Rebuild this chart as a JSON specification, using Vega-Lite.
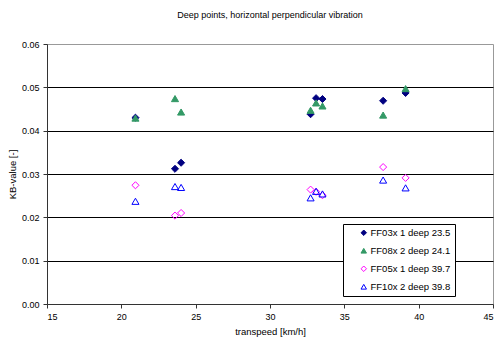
{
  "$schema": "https://vega.github.io/schema/vega-lite/v6.json",
  "autosize": "none",
  "width": 446,
  "height": 260,
  "padding": {"left": 47, "top": 44, "right": 5, "bottom": 36},
  "background": "white",
  "config": {
    "font": "Liberation Sans",
    "view": {"stroke": "#999999", "strokeWidth": 1},
    "axis": {"labelFont": "Liberation Sans", "titleFont": "Liberation Sans", "labelFontSize": 9, "titleFontSize": 9.5, "titleFontWeight": "normal", "labelColor": "#000", "titleColor": "#000", "domainColor": "#333", "tickColor": "#333"}
  },
  "title": {"text": "Deep points, horizontal perpendicular vibration", "fontSize": 9, "fontWeight": "normal", "font": "Liberation Sans", "color": "#000", "anchor": "middle", "offset": 20},
  "data": {"values": [
    {"series": "FF03x 1 deep 23.5", "speed": 20.95, "kb": 0.0430},
    {"series": "FF03x 1 deep 23.5", "speed": 23.61, "kb": 0.0312},
    {"series": "FF03x 1 deep 23.5", "speed": 24.02, "kb": 0.0326},
    {"series": "FF03x 1 deep 23.5", "speed": 32.73, "kb": 0.0438},
    {"series": "FF03x 1 deep 23.5", "speed": 33.10, "kb": 0.0475},
    {"series": "FF03x 1 deep 23.5", "speed": 33.53, "kb": 0.0473},
    {"series": "FF03x 1 deep 23.5", "speed": 37.61, "kb": 0.0469},
    {"series": "FF03x 1 deep 23.5", "speed": 39.12, "kb": 0.0487},
    {"series": "FF08x 2 deep 24.1", "speed": 20.95, "kb": 0.0429},
    {"series": "FF08x 2 deep 24.1", "speed": 23.61, "kb": 0.0474},
    {"series": "FF08x 2 deep 24.1", "speed": 24.02, "kb": 0.0443},
    {"series": "FF08x 2 deep 24.1", "speed": 32.73, "kb": 0.0447},
    {"series": "FF08x 2 deep 24.1", "speed": 33.10, "kb": 0.0464},
    {"series": "FF08x 2 deep 24.1", "speed": 33.53, "kb": 0.0457},
    {"series": "FF08x 2 deep 24.1", "speed": 37.61, "kb": 0.0436},
    {"series": "FF08x 2 deep 24.1", "speed": 39.12, "kb": 0.0497},
    {"series": "FF05x 1 deep 39.7", "speed": 20.95, "kb": 0.0274},
    {"series": "FF05x 1 deep 39.7", "speed": 23.61, "kb": 0.0204},
    {"series": "FF05x 1 deep 39.7", "speed": 24.02, "kb": 0.0210},
    {"series": "FF05x 1 deep 39.7", "speed": 32.73, "kb": 0.0264},
    {"series": "FF05x 1 deep 39.7", "speed": 33.10, "kb": 0.0259},
    {"series": "FF05x 1 deep 39.7", "speed": 33.53, "kb": 0.0251},
    {"series": "FF05x 1 deep 39.7", "speed": 37.61, "kb": 0.0316},
    {"series": "FF05x 1 deep 39.7", "speed": 39.12, "kb": 0.0291},
    {"series": "FF10x 2 deep 39.8", "speed": 20.95, "kb": 0.0237},
    {"series": "FF10x 2 deep 39.8", "speed": 23.61, "kb": 0.0271},
    {"series": "FF10x 2 deep 39.8", "speed": 24.02, "kb": 0.0269},
    {"series": "FF10x 2 deep 39.8", "speed": 32.73, "kb": 0.0245},
    {"series": "FF10x 2 deep 39.8", "speed": 33.10, "kb": 0.0260},
    {"series": "FF10x 2 deep 39.8", "speed": 33.53, "kb": 0.0254},
    {"series": "FF10x 2 deep 39.8", "speed": 37.61, "kb": 0.0286},
    {"series": "FF10x 2 deep 39.8", "speed": 39.12, "kb": 0.0268}
  ]},
  "mark": {"type": "point", "filled": true, "strokeWidth": 1, "opacity": 1, "size": 50},
  "encoding": {
    "x": {"field": "speed", "type": "quantitative", "scale": {"domain": [15, 45], "nice": false, "zero": false},
      "axis": {"values": [15, 20, 25, 30, 35, 40, 45], "title": "transpeed [km/h]", "grid": false, "tickSize": 4, "labelPadding": 4, "titlePadding": 5}},
    "y": {"field": "kb", "type": "quantitative", "scale": {"domain": [0, 0.06], "nice": false},
      "axis": {"values": [0, 0.01, 0.02, 0.03, 0.04, 0.05, 0.06], "format": ".2f", "title": "KB-value [-]", "grid": true,
        "gridColor": {"condition": {"test": "datum.value > 0.055 || datum.value < 0.005", "value": "transparent"}, "value": "#000000"},
        "gridWidth": 1, "gridOpacity": 1, "tickSize": 4, "labelPadding": 4, "titlePadding": 4}},
    "shape": {"field": "series", "type": "nominal", "scale": {"domain": ["FF03x 1 deep 23.5", "FF08x 2 deep 24.1", "FF05x 1 deep 39.7", "FF10x 2 deep 39.8"], "range": ["diamond", "triangle-up", "diamond", "triangle-up"]}},
    "fill": {"field": "series", "type": "nominal", "scale": {"domain": ["FF03x 1 deep 23.5", "FF08x 2 deep 24.1", "FF05x 1 deep 39.7", "FF10x 2 deep 39.8"], "range": ["#000080", "#339966", "transparent", "transparent"]}},
    "stroke": {"field": "series", "type": "nominal", "scale": {"domain": ["FF03x 1 deep 23.5", "FF08x 2 deep 24.1", "FF05x 1 deep 39.7", "FF10x 2 deep 39.8"], "range": ["#000080", "#339966", "#FF00FF", "#0000FF"]},
      "legend": {"title": null, "orient": "none", "legendX": 296, "legendY": 180, "fillColor": "white", "strokeColor": "#000", "padding": 4, "labelFontSize": 9.5, "labelFont": "Liberation Sans", "labelColor": "#000", "symbolSize": 30, "rowPadding": 7, "labelOffset": 2, "symbolOffset": 12, "symbolStrokeWidth": 1, "labelExpr": "datum.label + '\u00a0\u00a0\u00a0\u00a0'"}}
  }
}
